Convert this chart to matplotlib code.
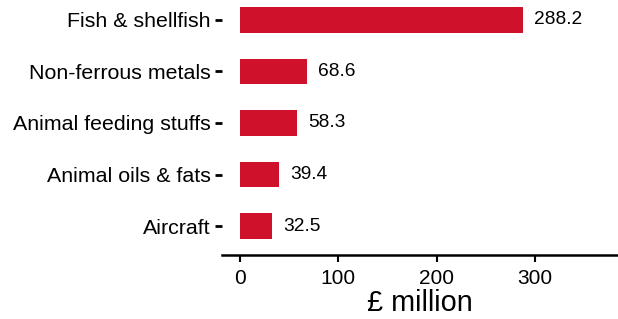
import matplotlib
matplotlib.use('Agg')
import matplotlib.pyplot as plt

categories = ['Aircraft', 'Animal oils & fats', 'Animal feeding stuffs',
              'Non-ferrous metals', 'Fish & shellfish']
values = [32.5, 39.4, 58.3, 68.6, 288.2]
xticks = [0, 100, 200, 300]

plt.rcParams['font.family'] = ['Liberation Sans', 'DejaVu Sans']

fig = plt.figure(figsize=(6.18, 3.19), dpi=100)
ax = fig.add_axes([0.359, 0.2006, 0.641, 0.7994])

y_pos = range(len(categories))
ax.barh(y_pos, values, height=0.5, color='#D0112B')

for y, v in zip(y_pos, values):
    ax.annotate(f'{v:.1f}', xy=(v, y), xytext=(8, 0), textcoords='offset points',
                va='center', ha='left', fontsize=13.8)

ax.set_yticks(list(y_pos))
ax.set_yticklabels(categories, fontsize=15.4)
ax.set_xticks(xticks)
ax.set_xticklabels([str(t) for t in xticks], fontsize=15)
ax.set_xlim(-18.3, 384.5)
ax.set_ylim(-0.563, 4.388)

for side in ['top', 'right', 'left']:
    ax.spines[side].set_visible(False)
ax.spines['bottom'].set_linewidth(1.8)
ax.tick_params(axis='y', length=5, width=2, pad=3)
ax.tick_params(axis='x', length=5, width=1.5, pad=5)
ax.set_xlabel('£ million', fontsize=20.8, labelpad=1)

fig.savefig('out.png', dpi=100)
